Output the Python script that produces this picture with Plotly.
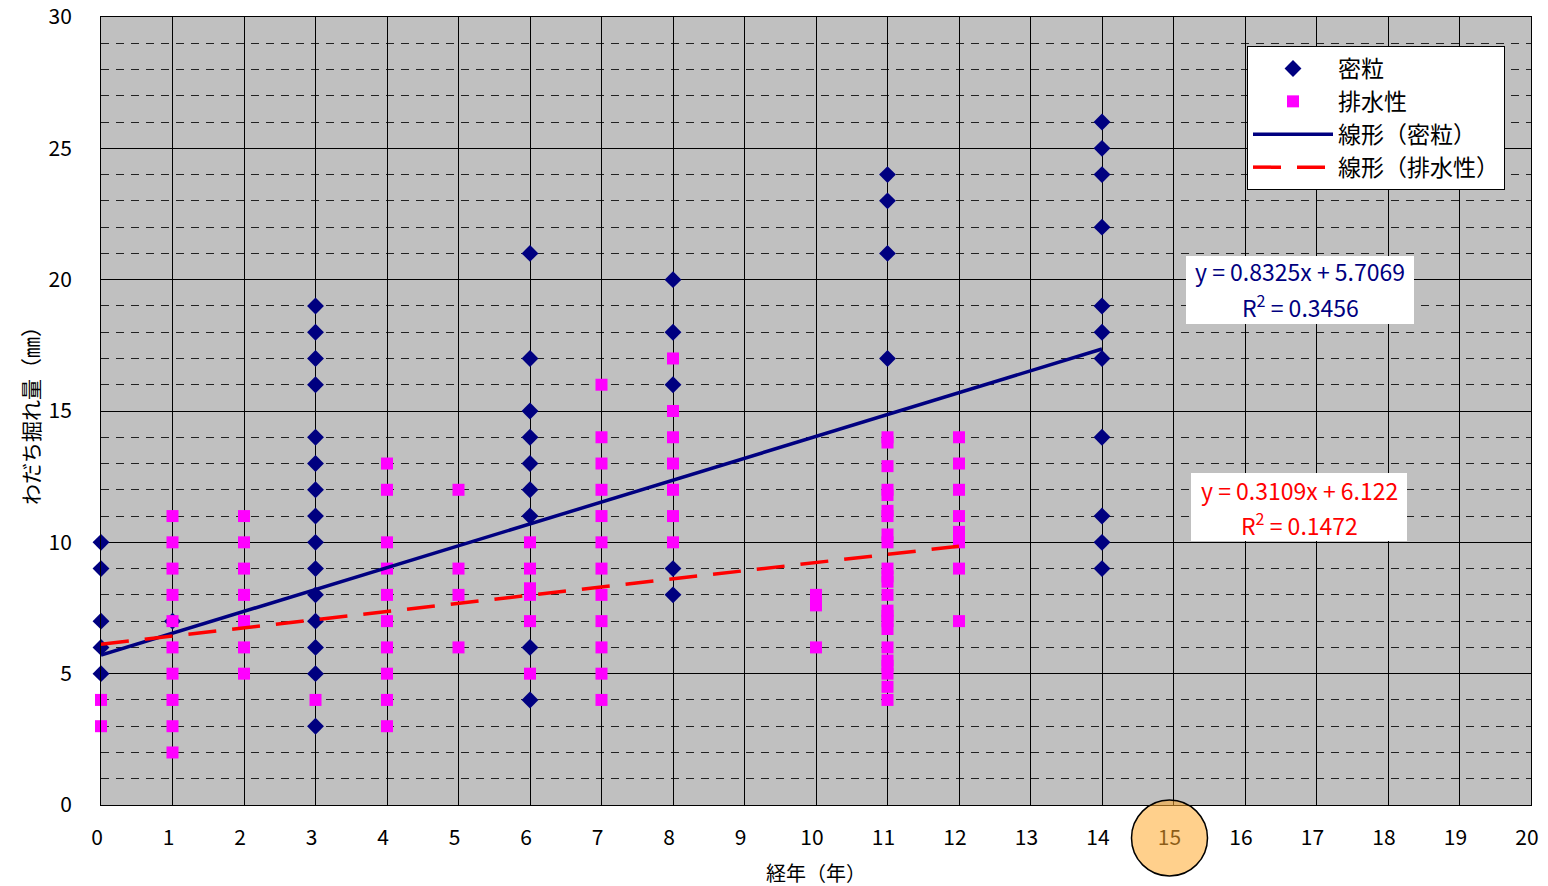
import plotly.graph_objects as go

# ---- data ----
dense_x = ([0] * 5 + [1] + [3] * 15 + [6] * 9 + [8] * 5 + [11] * 4 + [14] * 11)
dense_y = ([10, 9, 7, 6, 5] +
           [7] +
           [19, 18, 17, 16, 14, 13, 12, 11, 10, 9, 8, 7, 6, 5, 3] +
           [21, 17, 15, 14, 13, 12, 11, 6, 4] +
           [20, 18, 16, 9, 8] +
           [24, 23, 21, 17] +
           [26, 25, 24, 22, 19, 18, 17, 14, 11, 10, 9])

drain_x = ([0] * 2 + [1] * 10 + [2] * 7 + [3] + [4] * 10 + [5] * 4 + [6] * 6 +
           [7] * 12 + [8] * 7 + [10] * 3 + [11] * 23 + [12] * 8)
drain_y = ([4, 3] +
           [11, 10, 9, 8, 7, 6, 5, 4, 3, 2] +
           [11, 10, 9, 8, 7, 6, 5] +
           [4] +
           [13, 12, 10, 9, 8, 7, 6, 5, 4, 3] +
           [12, 9, 8, 6] +
           [10, 9, 8.25, 8, 7, 5] +
           [16, 14, 13, 12, 11, 10, 9, 8, 7, 6, 5, 4] +
           [17, 15, 14, 13, 12, 11, 10] +
           [8, 7.6, 6] +
           [14, 13.8, 12.9, 12, 11.8, 11.2, 11, 10.3, 10, 9, 8.7, 8.5, 8,
            7.4, 7.2, 7, 6.7, 6, 5.5, 5.3, 5, 4.5, 4] +
           [14, 13, 12, 11, 10.4, 10, 9, 7])

dense_slope, dense_intercept, dense_r2 = 0.8325, 5.7069, 0.3456
drain_slope, drain_intercept, drain_r2 = 0.3109, 6.122, 0.1472
dense_fit_x = [0, 14]
drain_fit_x = [0, 12]

x_ticks = list(range(0, 21))
y_ticks = [0, 5, 10, 15, 20, 25, 30]

series_names = ["密粒", "排水性", "線形（密粒）", "線形（排水性）"]
x_title = "経年（年）"
y_title = "わだち掘れ量（㎜）"
highlight_year = 15

FONT = "Noto Sans CJK JP"
NAVY = "#000080"
MAGENTA = "#FF00FF"
RED = "#FF0000"

W, H = 1548, 886
L, R, T, B = 101, 17, 17, 81
PW, PH = W - L - R, H - T - B


def px_x(p):
    return (p - L) / PW


def px_y(p):
    return (H - B - p) / PH


fig = go.Figure()

fig.add_trace(go.Scatter(
    x=dense_x, y=dense_y, mode="markers", name=series_names[0],
    marker=dict(symbol="diamond", size=13, color=NAVY, line=dict(width=0)),
    cliponaxis=False))
fig.add_trace(go.Scatter(
    x=drain_x, y=drain_y, mode="markers", name=series_names[1],
    marker=dict(symbol="square", size=12, color=MAGENTA, line=dict(width=0)),
    cliponaxis=False))
fig.add_trace(go.Scatter(
    x=dense_fit_x, y=[dense_slope * v + dense_intercept for v in dense_fit_x],
    mode="lines", name=series_names[2], line=dict(color=NAVY, width=3.5)))
fig.add_trace(go.Scatter(
    x=drain_fit_x, y=[drain_slope * v + drain_intercept for v in drain_fit_x],
    mode="lines", name=series_names[3],
    line=dict(color=RED, width=3.5, dash="28px,16px")))

fig.update_layout(
    width=W, height=H,
    margin=dict(l=L, r=R, t=T, b=B, pad=0, autoexpand=False),
    paper_bgcolor="white", plot_bgcolor="#C0C0C0",
    font=dict(family=FONT, color="black", size=20),
    showlegend=True,
    legend=dict(
        x=px_x(1505), y=px_y(46), xanchor="right", yanchor="top",
        bgcolor="white", bordercolor="black", borderwidth=1,
        font=dict(family=FONT, size=23, color="black"),
        tracegroupgap=0, itemwidth=80),
)

fig.update_xaxes(
    range=[0, 20], tickmode="array", tickvals=x_ticks,
    ticktext=[str(t) for t in x_ticks], automargin=False,
    showgrid=True, gridcolor="black", gridwidth=1,
    showline=True, linecolor="black", linewidth=1, mirror=True,
    zeroline=False, ticks="", ticklabelstandoff=14, ticklabelshift=-4,
    tickfont=dict(family=FONT, size=21, color="black"))
fig.update_yaxes(
    range=[0, 30], tickmode="array", tickvals=y_ticks, automargin=False,
    showgrid=True, gridcolor="black", gridwidth=1,
    minor=dict(dtick=1, showgrid=True, gridcolor="#222222", griddash="8px,7px",
               gridwidth=1),
    showline=True, linecolor="black", linewidth=1, mirror=True,
    zeroline=False, ticks="", ticklabelstandoff=24,
    tickfont=dict(family=FONT, size=21, color="black"))

# axis titles
fig.add_annotation(text=x_title, xref="paper", yref="paper", x=0.5, y=0,
                   yshift=-67, xanchor="center", yanchor="middle",
                   showarrow=False, font=dict(family=FONT, size=20, color="black"))
fig.add_annotation(text=y_title, xref="paper", yref="paper", x=0, y=0.5,
                   xshift=-71, xanchor="center", yanchor="middle", textangle=-90,
                   showarrow=False, font=dict(family=FONT, size=21, color="black"))

# trendline equation boxes
eq_boxes = [
    (1186, 1414, 256, 324, 271, 306,
     f"y = {dense_slope}x + {dense_intercept}", f"R<sup>2</sup> = {dense_r2}", NAVY),
    (1191, 1407, 473, 541, 490, 524,
     f"y = {drain_slope}x + {drain_intercept}", f"R<sup>2</sup> = {drain_r2}", RED),
]
for x0, x1, y0, y1, ly1, ly2, t1, t2, col in eq_boxes:
    fig.add_shape(type="rect", xref="paper", yref="paper",
                  x0=px_x(x0), x1=px_x(x1), y0=px_y(y1), y1=px_y(y0),
                  fillcolor="white", line=dict(width=0), layer="above")
    cx = px_x((x0 + x1) / 2)
    for ly, txt in ((ly1, t1), (ly2, t2)):
        fig.add_annotation(text=txt, xref="paper", yref="paper", x=cx, y=px_y(ly),
                           xanchor="center", yanchor="middle", showarrow=False,
                           font=dict(family=FONT, size=23, color=col))

# highlight circle around the "15" tick label
fig.add_shape(
    type="circle", xref="paper", yref="paper",
    xsizemode="pixel", ysizemode="pixel",
    xanchor=highlight_year / 20, yanchor=0,
    x0=-42, x1=34, y0=-71, y1=5,
    fillcolor="rgba(255,170,45,0.55)", line=dict(color="black", width=1.5),
    layer="above")

fig.write_html("out.html",
               config={"displayModeBar": False},
               post_script="document.body.style.margin='0';"
                           "document.body.style.overflow='hidden';")
